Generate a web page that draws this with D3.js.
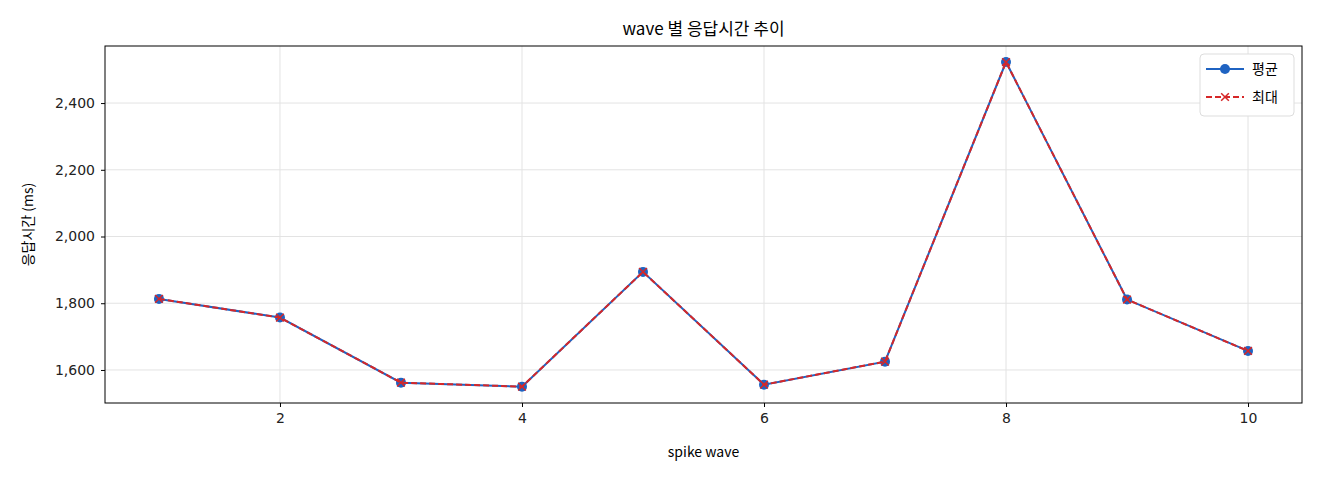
<!DOCTYPE html>
<html><head><meta charset="utf-8">
<script src="https://cdn.jsdelivr.net/npm/d3@7"></script>
<style>body{margin:0;background:#fff;font-family:"Noto Sans CJK KR","DejaVu Sans",sans-serif;}</style>
</head><body><div id="chart"></div>
<script>
var waves = [1, 2, 3, 4, 5, 6, 7, 8, 9, 10];
var avgMs = [1813, 1757, 1562, 1550, 1894, 1556, 1625, 2523, 1811, 1657];
var maxMs = [1813, 1757, 1562, 1550, 1894, 1556, 1625, 2523, 1811, 1657];
var yTicks = [1600, 1800, 2000, 2200, 2400];
var xTicks = [2, 4, 6, 8, 10];

var w = 1320, h = 480;
var m = {left: 105, right: 18, top: 46, bottom: 77};

var svg = d3.select("#chart").append("svg").attr("width", w).attr("height", h);

var x = d3.scaleLinear().domain([0.554, 10.446]).range([m.left, w - m.right]);
var y = d3.scaleLinear().domain([1501, 2571]).range([h - m.bottom, m.top]);

//grid
svg.selectAll(".gx").data(xTicks).enter().append("line")
    .attr("x1", d => x(d)).attr("x2", d => x(d))
    .attr("y1", m.top).attr("y2", h - m.bottom)
    .style("stroke", "#e3e3e3");
svg.selectAll(".gy").data(yTicks).enter().append("line")
    .attr("x1", m.left).attr("x2", w - m.right)
    .attr("y1", d => y(d)).attr("y2", d => y(d))
    .style("stroke", "#e3e3e3");

var xAxis = svg.append("g").attr("transform", "translate(0," + (h - m.bottom) + ")")
    .call(d3.axisBottom(x).tickValues(xTicks).tickSizeOuter(0).tickSize(4).tickPadding(6));
var yAxis = svg.append("g").attr("transform", "translate(" + m.left + ",0)")
    .call(d3.axisLeft(y).tickValues(yTicks).tickSizeOuter(0).tickSize(4).tickPadding(6));
[xAxis, yAxis].forEach(function(a) {
    a.selectAll("text").style("font-size", "14px").style("fill", "#222")
        .style("font-family", "'DejaVu Sans',sans-serif");
    a.select(".domain").remove();
});

svg.append("rect").attr("x", m.left).attr("y", m.top)
    .attr("width", w - m.left - m.right).attr("height", h - m.top - m.bottom)
    .style("fill", "none").style("stroke", "#000").style("stroke-width", 1);

var line = d3.line().x((d, i) => x(waves[i])).y(d => y(d));

svg.append("path").datum(avgMs).attr("d", line)
    .style("fill", "none").style("stroke", "#1f63c2").style("stroke-width", 2);
svg.selectAll(".dot").data(avgMs).enter().append("circle")
    .attr("cx", (d, i) => x(waves[i])).attr("cy", d => y(d)).attr("r", 5)
    .style("fill", "#1f63c2");

svg.append("path").datum(maxMs).attr("d", line)
    .style("fill", "none").style("stroke", "#d62728").style("stroke-width", 2)
    .style("stroke-dasharray", "6,3");
var cross = d3.symbol().type(d3.symbolX).size(40);
svg.selectAll(".xm").data(maxMs).enter().append("path")
    .attr("d", cross)
    .attr("transform", (d, i) => "translate(" + x(waves[i]) + "," + y(d) + ")")
    .style("stroke", "#d62728").style("stroke-width", 1.5).style("fill", "none");

//title and labels
svg.append("text").attr("x", (m.left + w - m.right) / 2).attr("y", 35)
    .attr("text-anchor", "middle").style("font-size", "17px").text("wave 별 응답시간 추이");
svg.append("text").attr("x", (m.left + w - m.right) / 2).attr("y", 457)
    .attr("text-anchor", "middle").style("font-size", "14px").text("spike wave");
svg.append("text").attr("transform", "translate(33," + ((m.top + h - m.bottom) / 2) + ") rotate(-90)")
    .attr("text-anchor", "middle").style("font-size", "14px").text("응답시간 (ms)");

//legend
var lg = svg.append("g").attr("transform", "translate(1200,54)");
lg.append("rect").attr("width", 94).attr("height", 62).attr("rx", 4)
    .style("fill", "#fff").style("stroke", "#ddd");
lg.append("line").attr("x1", 6).attr("x2", 44).attr("y1", 15).attr("y2", 15)
    .style("stroke", "#1f63c2").style("stroke-width", 2);
lg.append("circle").attr("cx", 25).attr("cy", 15).attr("r", 5).style("fill", "#1f63c2");
lg.append("line").attr("x1", 6).attr("x2", 44).attr("y1", 43).attr("y2", 43)
    .style("stroke", "#d62728").style("stroke-width", 2).style("stroke-dasharray", "6,3");
lg.append("path").attr("d", cross).attr("transform", "translate(25,43)")
    .style("stroke", "#d62728").style("stroke-width", 1.5);
lg.append("text").attr("x", 52).attr("y", 20).style("font-size", "14px").text("평균");
lg.append("text").attr("x", 52).attr("y", 48).style("font-size", "14px").text("최대");
</script></body></html>
